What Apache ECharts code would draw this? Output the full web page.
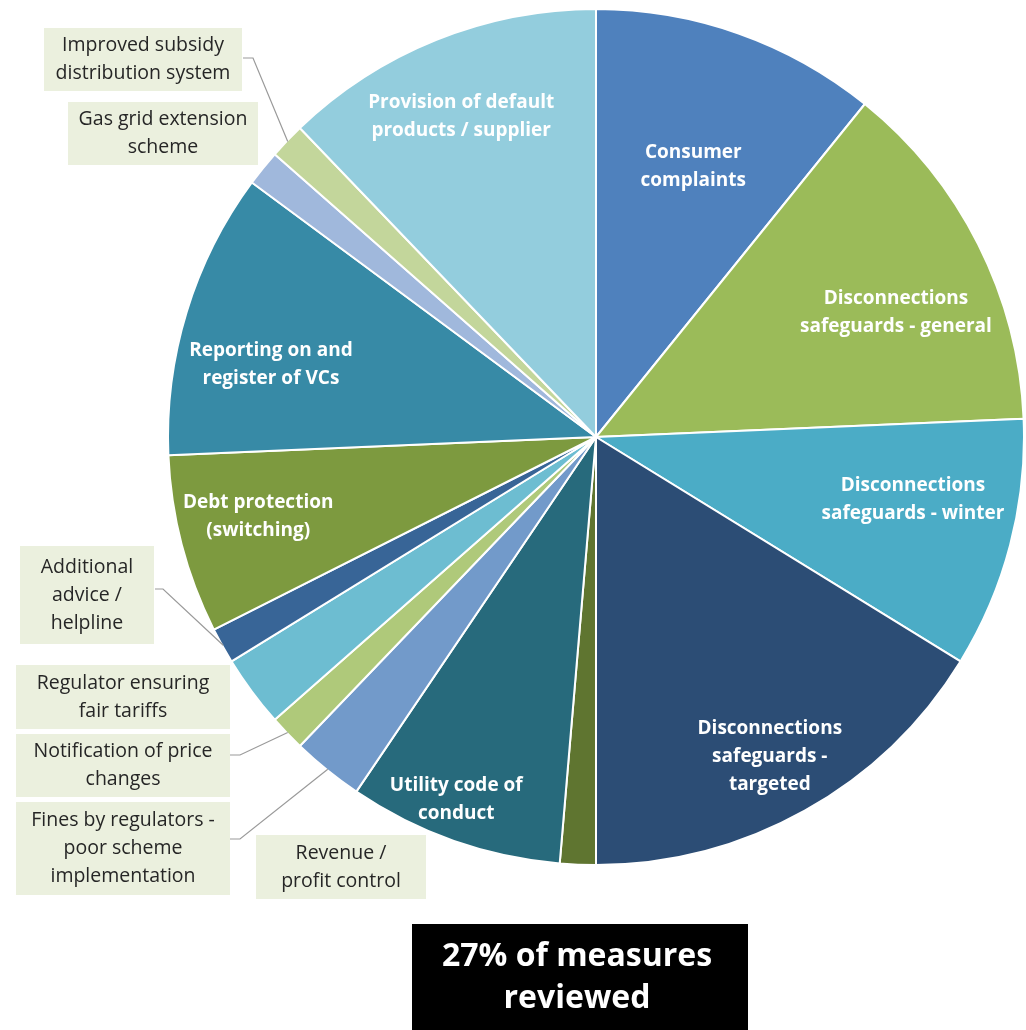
<!DOCTYPE html>
<html><head><meta charset="utf-8">
<script src="https://cdn.jsdelivr.net/npm/echarts@6/dist/echarts.min.js"></script>
<style>html,body{margin:0;padding:0;background:#fff}#c{width:1026px;height:1030px}</style>
</head><body><div id="c"></div>
<script>
// ---------- data ----------
const categories = [
  'Consumer complaints',
  'Disconnections safeguards - general',
  'Disconnections safeguards - winter',
  'Disconnections safeguards - targeted',
  'Revenue / profit control',
  'Utility code of conduct',
  'Fines by regulators - poor scheme implementation',
  'Notification of price changes',
  'Regulator ensuring fair tariffs',
  'Additional advice / helpline',
  'Debt protection (switching)',
  'Reporting on and register of VCs',
  'Gas grid extension scheme',
  'Improved subsidy distribution system',
  'Provision of default products / supplier'
];
const values = [8, 10, 7, 12, 1, 6, 2, 1, 2, 1, 5, 8, 1, 1, 9];
const labelTexts = [
  'Consumer\ncomplaints',
  'Disconnections\nsafeguards - general',
  'Disconnections\nsafeguards - winter',
  'Disconnections\nsafeguards -\ntargeted',
  'Revenue /\nprofit control',
  'Utility code of\nconduct',
  'Fines by regulators -\npoor scheme\nimplementation',
  'Notification of price\nchanges',
  'Regulator ensuring\nfair tariffs',
  'Additional\nadvice /\nhelpline',
  'Debt protection\n(switching)',
  'Reporting on and\nregister of VCs',
  'Gas grid extension\nscheme',
  'Improved subsidy\ndistribution system',
  'Provision of default\nproducts / supplier'
];
const footnote = '27% of measures\nreviewed';

// ---------- style / layout ----------
const colors = ['#4f81bd','#9bbb59','#4bacc6','#2c4d75','#5f7530','#276a7c','#729aca','#afc97a',
  '#6dbdd1','#386597','#7d9a3f','#378aa6','#a0b8dc','#c3d69b','#93cddd'];
const CX = 596, CY = 437, R = 428;
// inside labels: [angle from 12 o'clock (deg, clockwise), radius fraction]
const insidePos = {0:[19.8,0.671],1:[67.4,0.759],2:[101.2,0.755],3:[151.5,0.851],5:[201.1,0.907],
  10:[256.7,0.811],11:[282.5,0.778],14:[337.2,0.813]};
// outside boxes: centre, width, height, leader elbow + end (null = no leader)
const boxes = {
  13:{cx:143,cy:59.5,w:198,h:63,line:[[253,58],[243,58]]},
  12:{cx:163,cy:133.5,w:190,h:63,line:null},
  9:{cx:87,cy:595,w:134,h:98,line:[[163,589],[155,589]]},
  8:{cx:123,cy:697,w:214,h:64,line:null},
  7:{cx:123,cy:765.5,w:214,h:63,line:[[240,755],[230,755]]},
  6:{cx:123,cy:848.5,w:214,h:93,line:[[240,839],[230,839]]},
  4:{cx:341,cy:867,w:170,h:64,line:null}
};
const total = values.reduce((a,b)=>a+b,0);
const midAngles = [];
{ let c = 0; values.forEach(v => { midAngles.push((c + v/2) / total * 360); c += v; }); }
function polar(angDeg, r) {
  const a = angDeg * Math.PI / 180;
  return [CX + r * Math.sin(a), CY - r * Math.cos(a)];
}
const LH = 28;
const graphics = [];
categories.forEach((name, i) => {
  if (boxes[i]) {
    const b = boxes[i];
    graphics.push({ type: 'rect', z: 10, shape: { x: b.cx - b.w/2, y: b.cy - b.h/2, width: b.w, height: b.h },
      style: { fill: '#ebf0de' } });
    graphics.push({ type: 'text', z: 11, x: b.cx, y: b.cy, style: { text: labelTexts[i], fill: '#262626',
      fontSize: 19.5, fontFamily: 'Open Sans', lineHeight: LH, align: 'center', verticalAlign: 'middle' } });
    if (b.line) {
      graphics.push({ type: 'polyline', z: 9, shape: { points: [polar(midAngles[i], R - 1), b.line[0], b.line[1]] },
        style: { stroke: '#9a9a9a', lineWidth: 1.2, fill: null } });
    }
  } else {
    const pp = insidePos[i];
    const xy = polar(pp[0], pp[1] * R);
    graphics.push({ type: 'text', z: 11, x: xy[0], y: xy[1], style: { text: labelTexts[i], fill: '#fff',
      fontSize: 19, fontWeight: 'bold', fontFamily: 'Open Sans', lineHeight: LH,
      align: 'center', verticalAlign: 'middle' } });
  }
});
graphics.push({ type: 'rect', shape: { x: 412, y: 924, width: 336, height: 106 }, style: { fill: '#000' } });
graphics.push({ type: 'text', z: 11, x: 577, y: 978, style: { text: footnote, fill: '#fff', fontSize: 32,
  fontWeight: 'bold', fontFamily: 'Open Sans', lineHeight: 42, align: 'center', verticalAlign: 'middle' } });

const chart = echarts.init(document.getElementById('c'), null, { renderer: 'canvas' });
chart.setOption({
  animation: false,
  backgroundColor: '#fff',
  series: [{
    type: 'pie',
    center: [CX, CY],
    radius: R,
    startAngle: 90,
    clockwise: true,
    emphasis: { disabled: true },
    itemStyle: { borderColor: '#fff', borderWidth: 2 },
    label: { show: false },
    labelLine: { show: false },
    data: categories.map((name, i) => ({ name, value: values[i], itemStyle: { color: colors[i] } }))
  }],
  graphic: graphics
});
</script>
</body></html>
